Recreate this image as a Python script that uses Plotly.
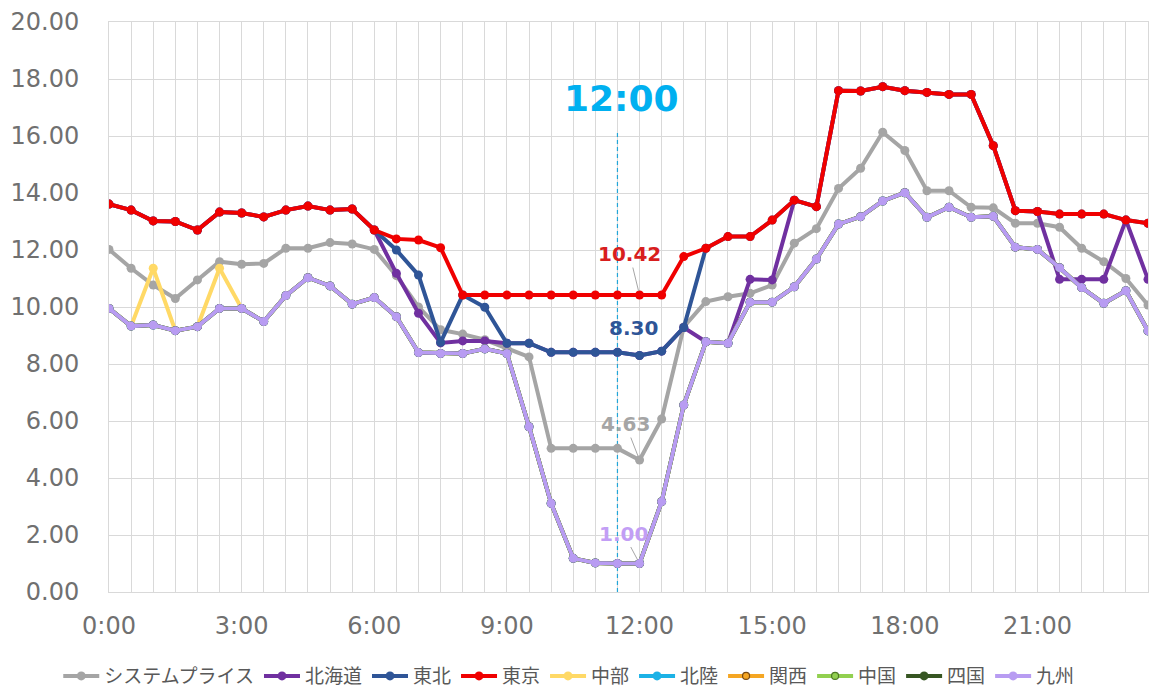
import plotly.graph_objects as go

# Half-hour slots, 0:00 .. 23:30
times = [f"{h}:{m:02d}" for h in range(24) for m in (0, 30)]
x_idx = list(range(len(times)))

system_price = [12.02, 11.36, 10.77, 10.30, 10.95, 11.59, 11.50, 11.53, 12.06, 12.06,
                12.26, 12.21, 12.02, 11.10, 10.00, 9.20, 9.05, 8.85, 8.55, 8.25,
                5.04, 5.04, 5.04, 5.04, 4.63, 6.07, 9.30, 10.19, 10.36, 10.48,
                10.77, 12.24, 12.75, 14.16, 14.87, 16.13, 15.49, 14.08, 14.08, 13.50,
                13.48, 12.94, 12.94, 12.80, 12.06, 11.59, 11.00, 10.07]

tokyo = [13.61, 13.40, 13.02, 13.00, 12.70, 13.33, 13.30, 13.16, 13.40, 13.54,
         13.40, 13.44, 12.70, 12.39, 12.35, 12.08, 10.42, 10.42, 10.42, 10.42,
         10.42, 10.42, 10.42, 10.42, 10.42, 10.42, 11.77, 12.06, 12.47, 12.47,
         13.05, 13.75, 13.52, 17.59, 17.58, 17.73, 17.59, 17.53, 17.46, 17.46,
         15.66, 13.38, 13.35, 13.26, 13.26, 13.26, 13.05, 12.94]

hokkaido = [13.61, 13.40, 13.02, 13.00, 12.70, 13.33, 13.30, 13.16, 13.40, 13.54,
            13.40, 13.44, 12.70, 11.18, 9.78, 8.74, 8.81, 8.81, 8.73, 8.73,
            8.41, 8.41, 8.41, 8.41, 8.30, 8.45, 9.28, 8.78, 8.73, 10.97,
            10.95, 13.75, 13.52, 17.59, 17.58, 17.73, 17.59, 17.53, 17.46, 17.46,
            15.66, 13.38, 13.35, 10.97, 10.97, 10.97, 13.05, 10.97]

tohoku = [13.61, 13.40, 13.02, 13.00, 12.70, 13.33, 13.30, 13.16, 13.40, 13.54,
          13.40, 13.44, 12.70, 12.00, 11.12, 8.76, 10.42, 9.99, 8.73, 8.73,
          8.41, 8.41, 8.41, 8.41, 8.30, 8.45, 9.28, 12.06, 12.47, 12.47,
          13.05, 13.75, 13.52, 17.59, 17.58, 17.73, 17.59, 17.53, 17.46, 17.46,
          15.66, 13.38, 13.35, 13.26, 13.26, 13.26, 13.05, 12.94]

kyushu = [9.95, 9.33, 9.37, 9.17, 9.31, 9.95, 9.95, 9.49, 10.40, 11.03,
          10.74, 10.10, 10.33, 9.66, 8.40, 8.37, 8.37, 8.53, 8.37, 5.80,
          3.11, 1.18, 1.02, 1.00, 1.00, 3.17, 6.56, 8.78, 8.73, 10.17,
          10.17, 10.71, 11.68, 12.91, 13.17, 13.72, 14.01, 13.15, 13.50, 13.15,
          13.18, 12.10, 12.02, 11.38, 10.68, 10.13, 10.57, 9.16]

chubu = [9.95, 9.33, 11.36, 9.17, 9.31, 11.36, 9.95, 9.49, 10.40, 11.03,
         10.74, 10.10, 10.33, 9.66, 8.40, 8.37, 8.37, 8.53, 8.37, 5.80,
         3.11, 1.18, 1.02, 1.00, 1.00, 3.17, 6.56, 8.78, 8.73, 10.17,
         10.17, 10.71, 11.68, 12.91, 13.17, 13.72, 14.01, 13.15, 13.50, 13.15,
         13.18, 12.10, 12.02, 11.38, 10.68, 10.13, 10.57, 9.16]

hokuriku = list(kyushu)
kansai = list(kyushu)
chugoku = list(kyushu)
shikoku = list(kyushu)

# name, values, colour, marker outline colour, marker size
series = [
    ("システムプライス", system_price, "#a5a5a5", None, 9),
    ("北海道", hokkaido, "#7030a0", None, 9),
    ("東北", tohoku, "#2f5597", None, 9),
    ("東京", tokyo, "#f00000", None, 9),
    ("中部", chubu, "#ffd966", None, 9),
    ("北陸", hokuriku, "#1cb2e6", None, 9),
    ("関西", kansai, "#f5a623", "#7a4a10", 7),
    ("中国", chugoku, "#92d050", "#4f7a25", 7),
    ("四国", shikoku, "#375623", None, 9),
    ("九州", kyushu, "#b89cf2", None, 9),
]

tick_step = 6
tick_vals = x_idx[::tick_step]
tick_text = times[::tick_step]

fig = go.Figure()
for name, vals, color, edge, msize in series:
    marker = dict(symbol="circle", size=msize, color=color)
    if edge:
        marker["line"] = dict(color=edge, width=1.2)
    fig.add_trace(go.Scatter(
        x=x_idx, y=vals, name=name, mode="lines+markers",
        line=dict(color=color, width=4), marker=marker,
    ))

# Marker line for the noon slot
mark_slot = times.index("11:30")
fig.add_shape(type="line", xref="x", yref="y", x0=mark_slot, x1=mark_slot,
              y0=0, y1=16.14, layer="between",
              line=dict(color="#22a6d8", width=1.2, dash="4px,3px"))
fig.add_annotation(x=mark_slot, y=17.33, xref="x", yref="y", text="<b>12:00</b>",
                   showarrow=False, xshift=4,
                   font=dict(family="DejaVu Sans", size=36, color="#00b0f0"))

# Value labels at 12:00
noon = times.index("12:00")
labels = [
    (tokyo, "#d81e1e", -10, -41, True),
    (tohoku, "#2f5597", -6, -27, False),
    (system_price, "#a5a5a5", -14, -36, True),
    (kyushu, "#c29ef5", -16, -30, True),
]
for vals, color, dx, dy, leader in labels:
    txt = f"<b>{vals[noon]:.2f}</b>"
    font = dict(family="DejaVu Sans", size=20, color=color)
    if leader:
        fig.add_annotation(x=noon, y=vals[noon], xref="x", yref="y", text=txt,
                           showarrow=True, ax=dx, ay=dy, arrowhead=0,
                           arrowwidth=1, arrowcolor="#a6a6a6", standoff=4,
                           font=font)
    else:
        fig.add_annotation(x=noon, y=vals[noon], xref="x", yref="y", text=txt,
                           showarrow=False, xshift=dx, yshift=-dy, font=font)

grid = "#d9d9d9"
tick_font = dict(family="DejaVu Sans", size=24, color="#707070")

fig.update_layout(
    width=1149, height=688, autosize=False,
    paper_bgcolor="white", plot_bgcolor="white",
    margin=dict(l=109, r=1, t=22, b=96),
    showlegend=True,
    legend=dict(orientation="h", xref="container", yref="container",
                x=0.495, xanchor="center", y=0.0174, yanchor="middle",
                font=dict(family="Noto Sans CJK JP", size=19, color="#595959"),
                itemwidth=36, tracegroupgap=0, bgcolor="rgba(0,0,0,0)"),
    xaxis=dict(range=[0, len(times) - 1], tickmode="array",
               tickvals=tick_vals, ticktext=tick_text,
               showgrid=True, gridcolor=grid, gridwidth=1,
               minor=dict(dtick=1, showgrid=True, gridcolor=grid, gridwidth=1),
               zeroline=False, showline=True, linecolor=grid, mirror=True,
               ticks="", tickfont=tick_font, ticklabelstandoff=12),
    yaxis=dict(range=[0, 20], dtick=2, tickformat=".2f",
               showgrid=True, gridcolor=grid, gridwidth=1,
               zeroline=False, showline=True, linecolor=grid, mirror=True,
               ticks="", tickfont=tick_font, ticklabelstandoff=24),
)

fig.write_html("out.html")
